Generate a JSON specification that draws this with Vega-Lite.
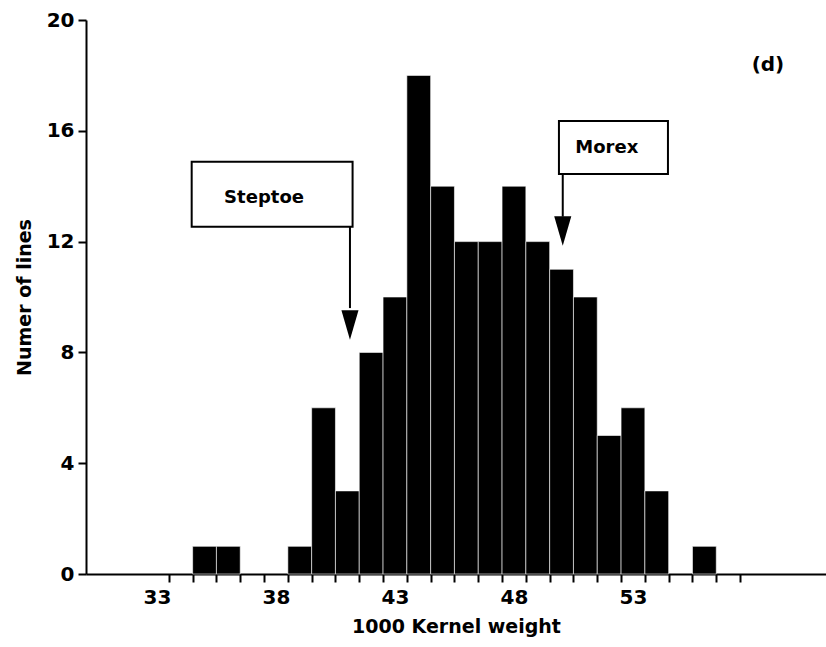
{
  "$schema": "https://vega.github.io/schema/vega-lite/v6.json",
  "width": 740,
  "height": 554,
  "autosize": {"type": "none"},
  "padding": {"left": 86, "top": 20, "right": 0, "bottom": 73},
  "background": "white",
  "config": {
    "view": {"stroke": null},
    "axis": {
      "grid": false,
      "domainColor": "black",
      "domainWidth": 2,
      "tickColor": "black",
      "tickWidth": 2,
      "tickSize": 8,
      "labelColor": "black",
      "labelFont": "DejaVu Sans",
      "labelFontWeight": "bold",
      "labelFontSize": 20,
      "labelOverlap": false,
      "titleColor": "black",
      "titleFont": "DejaVu Sans",
      "titleFontWeight": "bold",
      "titleFontSize": 19
    }
  },
  "datasets": {
    "bins": [
      {"lo": 34.5, "hi": 35.5, "count": 1},
      {"lo": 35.5, "hi": 36.5, "count": 1},
      {"lo": 38.5, "hi": 39.5, "count": 1},
      {"lo": 39.5, "hi": 40.5, "count": 6},
      {"lo": 40.5, "hi": 41.5, "count": 3},
      {"lo": 41.5, "hi": 42.5, "count": 8},
      {"lo": 42.5, "hi": 43.5, "count": 10},
      {"lo": 43.5, "hi": 44.5, "count": 18},
      {"lo": 44.5, "hi": 45.5, "count": 14},
      {"lo": 45.5, "hi": 46.5, "count": 12},
      {"lo": 46.5, "hi": 47.5, "count": 12},
      {"lo": 47.5, "hi": 48.5, "count": 14},
      {"lo": 48.5, "hi": 49.5, "count": 12},
      {"lo": 49.5, "hi": 50.5, "count": 11},
      {"lo": 50.5, "hi": 51.5, "count": 10},
      {"lo": 51.5, "hi": 52.5, "count": 5},
      {"lo": 52.5, "hi": 53.5, "count": 6},
      {"lo": 53.5, "hi": 54.5, "count": 3},
      {"lo": 55.5, "hi": 56.5, "count": 1}
    ],
    "parents": [
      {"name": "Steptoe", "bx1": 34.46, "bx2": 41.22, "by1": 12.54, "by2": 14.88, "tx": 37.5, "ty": 13.57, "ax": 41.11, "ay1": 12.54, "ay2": 9.6, "hy": 8.99},
      {"name": "Morex", "bx1": 49.89, "bx2": 54.47, "by1": 14.44, "by2": 16.35, "tx": 51.9, "ty": 15.38, "ax": 50.05, "ay1": 14.44, "ay2": 12.9, "hy": 12.38}
    ],
    "panel": [
      {"label": "(d)", "px": 58.67, "py": 18.38}
    ]
  },
  "layer": [
    {
      "data": {"name": "bins"},
      "mark": {"type": "rect", "color": "black", "stroke": "white", "strokeWidth": 0.6},
      "encoding": {
        "x": {
          "field": "lo",
          "type": "quantitative",
          "scale": {"domain": [30.02, 61.11], "nice": false, "zero": false},
          "axis": {
            "title": "1000 Kernel weight",
            "values": [33.5, 34.5, 35.5, 36.5, 37.5, 38.5, 39.5, 40.5, 41.5, 42.5, 43.5, 44.5, 45.5, 46.5, 47.5, 48.5, 49.5, 50.5, 51.5, 52.5, 53.5, 54.5, 55.5, 56.5, 57.5],
            "tickCount": 40,
            "labelExpr": "(datum.value - 33.5) % 5 == 0 ? format(datum.value - 0.5, 'd') : ''",
            "labelOffset": -11.9,
            "labelOverlap": false,
            "labelFlush": false,
            "labelPadding": 5,
            "titlePadding": 10
          }
        },
        "x2": {"field": "hi"},
        "y": {
          "field": "count",
          "type": "quantitative",
          "scale": {"domain": [0, 20], "nice": false},
          "axis": {
            "title": "Numer of lines",
            "values": [0, 4, 8, 12, 16, 20],
            "labelPadding": 4,
            "titlePadding": 12
          }
        },
        "y2": {"datum": 0}
      }
    },
    {
      "data": {"name": "parents"},
      "mark": {"type": "rect", "fill": "white", "stroke": "black", "strokeWidth": 2},
      "encoding": {
        "x": {"field": "bx1", "type": "quantitative"},
        "x2": {"field": "bx2"},
        "y": {"field": "by1", "type": "quantitative"},
        "y2": {"field": "by2"}
      }
    },
    {
      "data": {"name": "parents"},
      "mark": {"type": "text", "font": "DejaVu Sans", "fontWeight": "bold", "fontSize": 18, "color": "black", "align": "center", "baseline": "middle"},
      "encoding": {
        "x": {"field": "tx", "type": "quantitative"},
        "y": {"field": "ty", "type": "quantitative"},
        "text": {"field": "name"}
      }
    },
    {
      "data": {"name": "parents"},
      "mark": {"type": "rule", "color": "black", "strokeWidth": 2},
      "encoding": {
        "x": {"field": "ax", "type": "quantitative"},
        "y": {"field": "ay1", "type": "quantitative"},
        "y2": {"field": "ay2"}
      }
    },
    {
      "data": {"name": "parents"},
      "mark": {"type": "point", "shape": "M-0.58,-1L0.58,-1L0,1Z", "filled": true, "color": "black", "opacity": 1, "size": 870},
      "encoding": {
        "x": {"field": "ax", "type": "quantitative"},
        "y": {"field": "hy", "type": "quantitative"}
      }
    },
    {
      "data": {"name": "panel"},
      "mark": {"type": "text", "font": "DejaVu Sans", "fontWeight": "bold", "fontSize": 20, "color": "black", "align": "center", "baseline": "middle"},
      "encoding": {
        "x": {"field": "px", "type": "quantitative"},
        "y": {"field": "py", "type": "quantitative"},
        "text": {"field": "label"}
      }
    },
    {
      "mark": {"type": "rule", "color": "black", "strokeWidth": 2},
      "encoding": {"y": {"datum": 20}}
    }
  ]
}
